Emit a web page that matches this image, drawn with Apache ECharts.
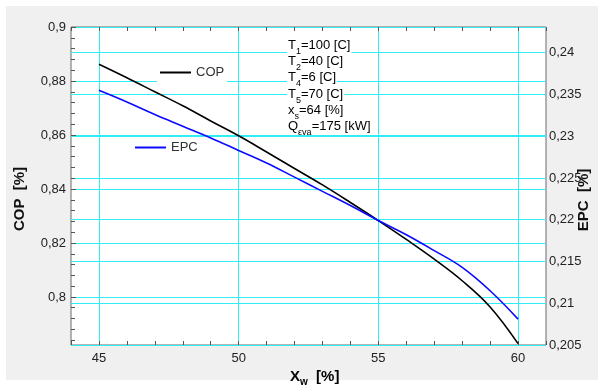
<!DOCTYPE html>
<html>
<head>
<meta charset="utf-8">
<script src="https://cdn.jsdelivr.net/npm/echarts@6/dist/echarts.min.js"></script>
<style>
  html, body { margin: 0; padding: 0; background: #fff; }
  #wrap { position: relative; width: 598px; height: 387px; background: #fff; }
  #panel { position: absolute; left: 6px; top: 6px; width: 592px; height: 374px; background: #f0f0f0; }
  #chart { position: absolute; left: 0; top: 0; width: 598px; height: 387px; }
</style>
</head>
<body>
<div id="wrap"><div id="panel"></div><div id="chart"></div></div>
<script>
// Water mass fraction X_w [%]
const xw = [45, 46, 47, 48, 49, 50, 51, 52, 53, 54, 55, 56, 57, 58, 59, 60];
// Coefficient of performance (left axis)
const cop = [0.8862, 0.8812, 0.8760, 0.8708, 0.8652, 0.8597, 0.8537, 0.8476,
             0.8415, 0.8350, 0.8283, 0.8213, 0.8140, 0.8060, 0.7963, 0.7827];
// EPC (right axis)
const epc = [0.2355, 0.2341, 0.2326, 0.2312, 0.2298, 0.2283, 0.2268, 0.2251,
             0.2234, 0.2217, 0.2199, 0.2182, 0.2163, 0.2143, 0.2115, 0.2081];

// Axis extents and tick labels
const xRange = [44, 61];
const copRange = [0.7822, 0.9];
const epcRange = [0.205, 0.24308];
const xLabels = [45, 50, 55, 60];
const copLabels = [0.8, 0.82, 0.84, 0.86, 0.88, 0.9];
const epcLabels = [0.205, 0.21, 0.215, 0.22, 0.225, 0.23, 0.235, 0.24];
const copMinorTicks = [0.784, 0.788, 0.792, 0.796, 0.8, 0.804, 0.808, 0.812, 0.816, 0.82,
                       0.824, 0.828, 0.832, 0.836, 0.84, 0.844, 0.848, 0.852, 0.856, 0.86,
                       0.864, 0.868, 0.872, 0.876, 0.88, 0.884, 0.888, 0.892, 0.896, 0.9];

// Operating conditions shown in the plot
const conditions = [
  ['T', '1', '=100 [C]'],
  ['T', '2', '=40 [C]'],
  ['T', '4', '=6 [C]'],
  ['T', '5', '=70 [C]'],
  ['x', 's', '=64 [%]'],
  ['Q', 'εva', '=175 [kW]']
];

const FONT = '"Liberation Sans", Arial, sans-serif';
const GRID = '#30eef4';
const TICK = '#555';
const comma = v => String(+(+v).toFixed(4)).replace('.', ',');

const chart = echarts.init(document.getElementById('chart'), null, { renderer: 'canvas' });

const condGraphics = conditions.map((c, i) => ({
  type: 'text',
  left: 287,
  top: 39 + i * 16.2,
  z: 50,
  style: {
    text: '{n|' + c[0] + '}{s|' + c[1] + '}{n|' + c[2] + '}',
    backgroundColor: '#fff',
    padding: [0, 1, 0, 1],
    rich: {
      n: { fontFamily: FONT, fontSize: 13, lineHeight: 15, color: '#333', verticalAlign: 'top' },
      s: { fontFamily: FONT, fontSize: 9, lineHeight: 9, color: '#333', verticalAlign: 'top', padding: [8, 0, 0, 0] }
    }
  }
}));

const legendBase = {
  padding: [4, 3, 4, 3], backgroundColor: '#fff', icon: 'rect',
  itemWidth: 31, itemHeight: 2, selectedMode: false,
  textStyle: { fontFamily: FONT, fontSize: 13, color: '#333' }
};

const option = {
  animation: false,
  grid: {
    left: 71, right: 52, top: 27, bottom: 42,
    show: true, backgroundColor: '#fff', borderColor: '#6a6a6a', borderWidth: 1
  },
  legend: [
    Object.assign({ data: ['COP'], left: 157, top: 62 }, legendBase),
    Object.assign({ data: ['EPC'], left: 132, top: 137 }, legendBase)
  ],
  xAxis: [
    {
      type: 'value', min: xRange[0], max: xRange[1], position: 'bottom',
      axisLine: { show: false },
      axisTick: { show: true, inside: true, length: 4, customValues: xLabels, lineStyle: { color: TICK } },
      axisLabel: { customValues: xLabels, margin: 7, fontFamily: FONT, fontSize: 13, color: '#222', formatter: comma },
      splitLine: { show: true, lineStyle: { color: GRID, width: 1 } }
    },
    {
      type: 'value', min: xRange[0], max: xRange[1], interval: 1, position: 'bottom',
      axisLine: { show: false },
      axisTick: { show: true, inside: true, length: 4, lineStyle: { color: TICK } },
      axisLabel: { show: false }, splitLine: { show: false }
    },
    {
      type: 'value', min: xRange[0], max: xRange[1], interval: 1, position: 'top',
      axisLine: { show: false },
      axisTick: { show: true, inside: true, length: 4, lineStyle: { color: TICK } },
      axisLabel: { show: false }, splitLine: { show: false }
    }
  ],
  yAxis: [
    {
      type: 'value', min: copRange[0], max: copRange[1], position: 'left',
      axisLine: { show: false },
      axisTick: { show: true, inside: true, length: 5, customValues: copLabels, lineStyle: { color: TICK } },
      axisLabel: { customValues: copLabels, margin: 5, fontFamily: FONT, fontSize: 13, color: '#222', formatter: comma },
      splitLine: { show: true, lineStyle: { color: GRID, width: 1 } }
    },
    {
      type: 'value', min: copRange[0], max: copRange[1], position: 'left',
      axisLine: { show: false },
      axisTick: { show: true, inside: true, length: 4, customValues: copMinorTicks, lineStyle: { color: TICK } },
      axisLabel: { show: false }, splitLine: { show: false }
    },
    {
      type: 'value', min: epcRange[0], max: epcRange[1], position: 'right',
      axisLine: { show: false },
      axisTick: { show: false, customValues: epcLabels },
      axisLabel: { customValues: epcLabels, margin: 3, fontFamily: FONT, fontSize: 13, color: '#222', formatter: comma },
      splitLine: { show: true, lineStyle: { color: GRID, width: 1 } }
    }
  ],
  graphic: [
    {
      type: 'text', x: 20, y: 199, rotation: Math.PI / 2, z: 50,
      style: { text: 'COP  [%]', fontFamily: FONT, fontSize: 15, fontWeight: 'bold', fill: '#111', align: 'center', verticalAlign: 'middle' }
    },
    {
      type: 'text', x: 584, y: 200, rotation: Math.PI / 2, z: 50,
      style: { text: 'EPC  [%]', fontFamily: FONT, fontSize: 15, fontWeight: 'bold', fill: '#111', align: 'center', verticalAlign: 'middle' }
    },
    {
      type: 'text', left: 290, top: 369, z: 50,
      style: {
        text: '{b|X}{s|w}{b|  [%]}',
        rich: {
          b: { fontFamily: FONT, fontSize: 15, fontWeight: 'bold', color: '#111', lineHeight: 17, verticalAlign: 'top' },
          s: { fontFamily: FONT, fontSize: 10, fontWeight: 'bold', color: '#111', lineHeight: 10, verticalAlign: 'top', padding: [8, 0, 0, 0] }
        }
      }
    }
  ].concat(condGraphics),
  series: [
    {
      name: 'COP', type: 'line', xAxisIndex: 0, yAxisIndex: 0,
      data: xw.map((x, i) => [x, cop[i]]),
      showSymbol: false, symbol: 'none', smooth: 0.4,
      lineStyle: { color: '#000', width: 1.6 }, itemStyle: { color: '#000' }, z: 10
    },
    {
      name: 'EPC', type: 'line', xAxisIndex: 0, yAxisIndex: 2,
      data: xw.map((x, i) => [x, epc[i]]),
      showSymbol: false, symbol: 'none', smooth: 0.4,
      lineStyle: { color: '#0a0aff', width: 1.6 }, itemStyle: { color: '#0a0aff' }, z: 10
    }
  ]
};

chart.setOption(option);
</script>
</body>
</html>
